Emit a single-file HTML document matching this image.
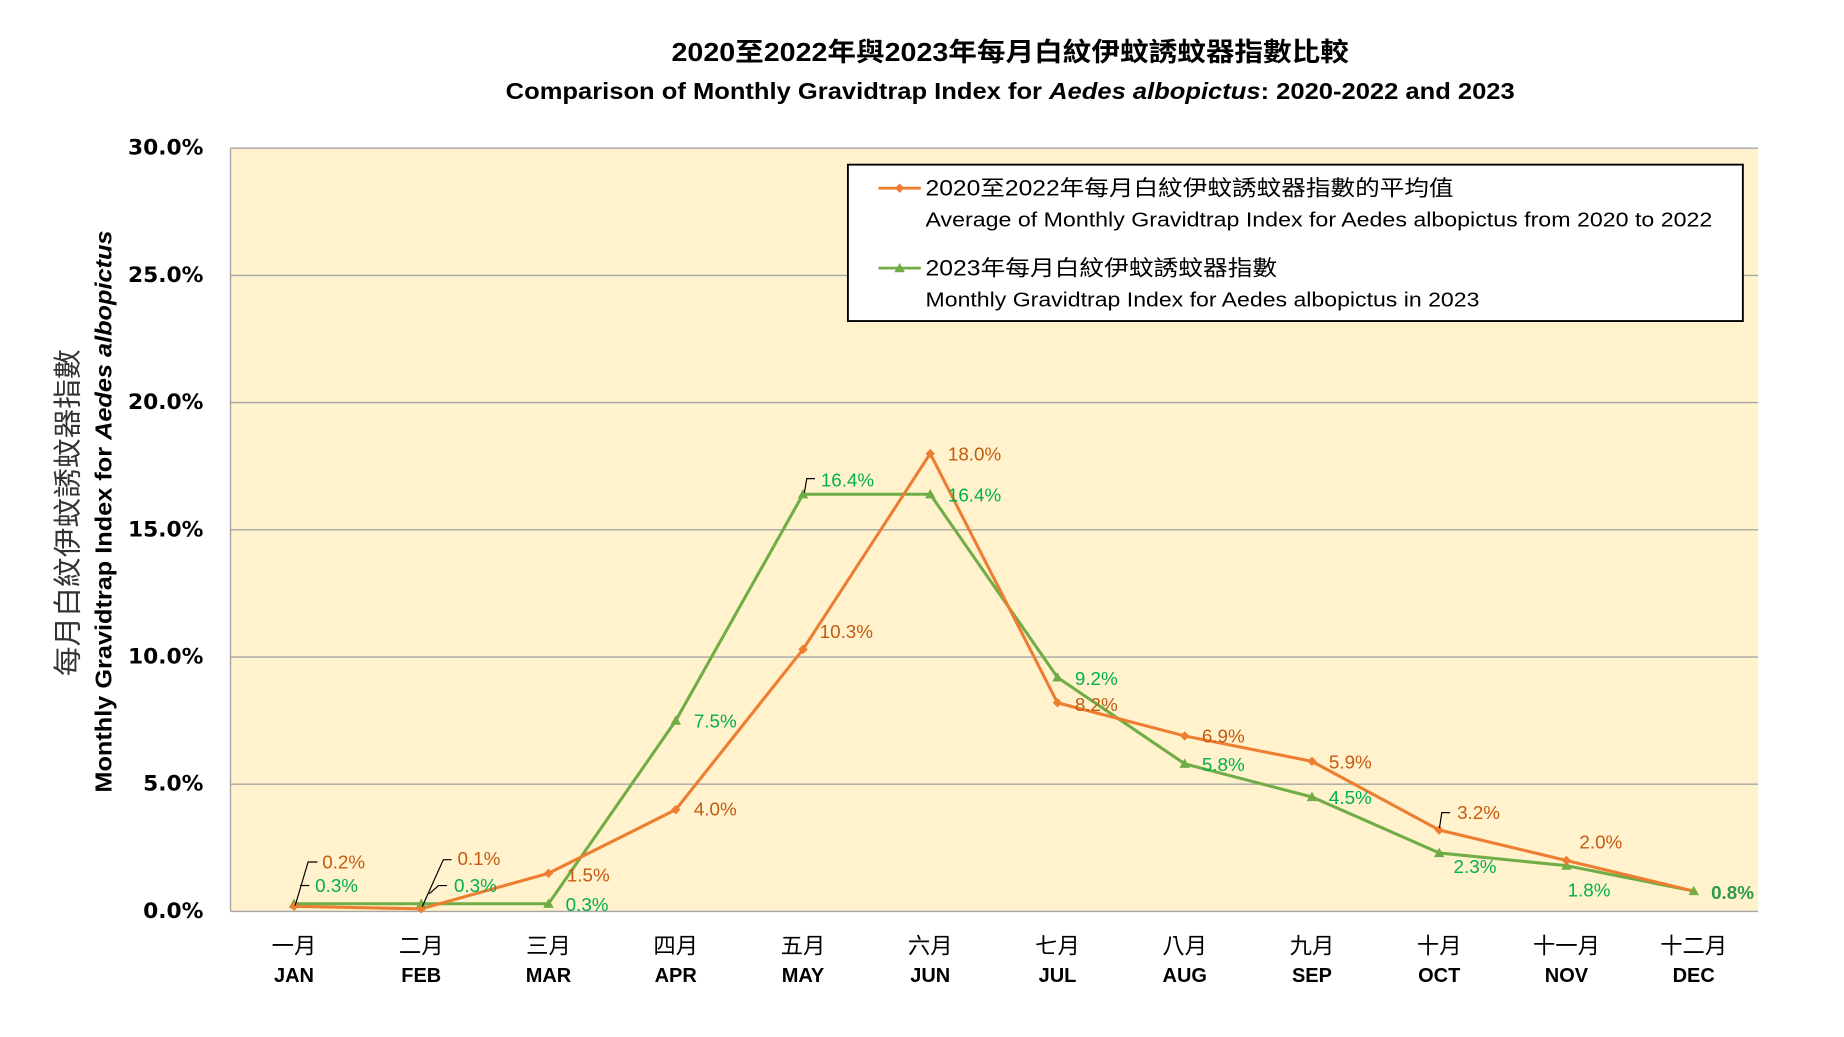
<!DOCTYPE html>
<html><head><meta charset="utf-8"><style>html,body{margin:0;padding:0;background:#fff}svg{display:block}</style></head>
<body>
<svg width="1844" height="1037" viewBox="0 0 1568 881.8" preserveAspectRatio="none" xmlns="http://www.w3.org/2000/svg">
<rect x="196" y="126" width="1299" height="649" fill="#FFF2CC"/>
<g stroke="#A6A6A6" stroke-width="1.2">
<line x1="196" y1="126" x2="1495" y2="126"/>
<line x1="196" y1="234.2" x2="1495" y2="234.2"/>
<line x1="196" y1="342.3" x2="1495" y2="342.3"/>
<line x1="196" y1="450.5" x2="1495" y2="450.5"/>
<line x1="196" y1="558.7" x2="1495" y2="558.7"/>
<line x1="196" y1="666.8" x2="1495" y2="666.8"/>
<line x1="196" y1="775" x2="1495" y2="775"/>
<line x1="196" y1="126" x2="196" y2="775"/>
</g>
<g font-family="'DejaVu Sans',sans-serif" font-weight="bold" font-size="18.5" text-anchor="end" fill="#000" dominant-baseline="central">
<text x="173" y="126">30.0%</text><text x="173" y="234.2">25.0%</text><text x="173" y="342.3">20.0%</text>
<text x="173" y="450.5">15.0%</text><text x="173" y="558.7">10.0%</text><text x="173" y="666.8">5.0%</text><text x="173" y="775">0.0%</text>
</g>
<g font-family="'Liberation Sans','Noto Sans CJK TC',sans-serif" text-anchor="middle" fill="#000">
<text x="859" y="52" font-size="22" font-weight="bold" textLength="576" lengthAdjust="spacingAndGlyphs">2020至2022年與2023年每月白紋伊蚊誘蚊器指數比較</text>
<text x="859" y="84" font-size="20" font-weight="bold" textLength="858" lengthAdjust="spacingAndGlyphs">Comparison of Monthly Gravidtrap Index for <tspan font-style="italic">Aedes albopictus</tspan>:  2020-2022 and 2023</text>
</g>
<text transform="translate(56,436) rotate(-90)" font-family="'Noto Sans CJK TC',sans-serif" font-size="24" fill="#333" text-anchor="middle" dominant-baseline="central" textLength="278" lengthAdjust="spacingAndGlyphs">每月白紋伊蚊誘蚊器指數</text>
<text transform="translate(88,435) rotate(-90)" font-family="'Liberation Sans',sans-serif" font-size="20" font-weight="bold" fill="#000" text-anchor="middle" dominant-baseline="central" textLength="478" lengthAdjust="spacingAndGlyphs">Monthly Gravidtrap Index for <tspan font-style="italic">Aedes albopictus</tspan></text>
<g font-family="'Noto Sans CJK TC',sans-serif" font-size="19" text-anchor="middle" fill="#000" dominant-baseline="central">
<text x="250" y="803">一月</text><text x="358.2" y="803">二月</text><text x="466.4" y="803">三月</text><text x="574.6" y="803">四月</text><text x="682.8" y="803">五月</text><text x="791" y="803">六月</text><text x="899.2" y="803">七月</text><text x="1007.4" y="803">八月</text><text x="1115.6" y="803">九月</text><text x="1223.8" y="803">十月</text><text x="1332" y="803">十一月</text><text x="1440.2" y="803">十二月</text>
</g>
<g font-family="'Liberation Sans',sans-serif" font-weight="bold" font-size="17" text-anchor="middle" fill="#000" dominant-baseline="central">
<text x="250" y="830">JAN</text><text x="358.2" y="830">FEB</text><text x="466.4" y="830">MAR</text><text x="574.6" y="830">APR</text><text x="682.8" y="830">MAY</text><text x="791" y="830">JUN</text><text x="899.2" y="830">JUL</text><text x="1007.4" y="830">AUG</text><text x="1115.6" y="830">SEP</text><text x="1223.8" y="830">OCT</text><text x="1332" y="830">NOV</text><text x="1440.2" y="830">DEC</text>
</g>
<polyline fill="none" stroke="#70AD47" stroke-width="2.6" points="250,768.5 358.2,768.5 466.4,768.5 574.6,612.8 682.8,420.3 791,420.3 899.2,576 1007.4,649.5 1115.6,677.7 1223.8,725.3 1332,736.1 1440.2,757.7"/>
<polyline fill="none" stroke="#ED7D31" stroke-width="2.6" points="250,770.7 358.2,772.8 466.4,742.6 574.6,688.5 682.8,552.2 791,385.7 899.2,597.6 1007.4,625.8 1115.6,647.4 1223.8,705.8 1332,731.7 1440.2,757.7"/>
<g fill="#70AD47">
<path d="M250,764 l4.5,8 h-9z"/><path d="M358.2,764 l4.5,8 h-9z"/><path d="M466.4,764 l4.5,8 h-9z"/><path d="M574.6,608.3 l4.5,8 h-9z"/><path d="M682.8,415.8 l4.5,8 h-9z"/><path d="M791,415.8 l4.5,8 h-9z"/><path d="M899.2,571.5 l4.5,8 h-9z"/><path d="M1007.4,645 l4.5,8 h-9z"/><path d="M1115.6,673.2 l4.5,8 h-9z"/><path d="M1223.8,720.8 l4.5,8 h-9z"/><path d="M1332,731.6 l4.5,8 h-9z"/><path d="M1440.2,753.2 l4.5,8 h-9z"/>
</g>
<g fill="#ED7D31">
<path d="M250,766.7 l4,4 l-4,4 l-4,-4z"/><path d="M358.2,768.8 l4,4 l-4,4 l-4,-4z"/><path d="M466.4,738.6 l4,4 l-4,4 l-4,-4z"/><path d="M574.6,684.5 l4,4 l-4,4 l-4,-4z"/><path d="M682.8,548.2 l4,4 l-4,4 l-4,-4z"/><path d="M791,381.7 l4,4 l-4,4 l-4,-4z"/><path d="M899.2,593.6 l4,4 l-4,4 l-4,-4z"/><path d="M1007.4,621.8 l4,4 l-4,4 l-4,-4z"/><path d="M1115.6,643.4 l4,4 l-4,4 l-4,-4z"/><path d="M1223.8,701.8 l4,4 l-4,4 l-4,-4z"/><path d="M1332,727.7 l4,4 l-4,4 l-4,-4z"/>
</g>
<g fill="none" stroke="#000" stroke-width="1">
<path d="M251,770 L262,733 h8"/><path d="M255,753 h8"/>
<path d="M359,771 L377,731 h7"/><path d="M365,760 l8,-7 h7"/>
<path d="M684,419 L686,407 h7"/>
<path d="M1224,704 L1226,691 h7"/>
</g>
<g font-family="'Liberation Sans',sans-serif" font-size="16" dominant-baseline="central">
<g fill="#C55A11">
<text x="274" y="733">0.2%</text><text x="389" y="730">0.1%</text><text x="482" y="744">1.5%</text><text x="590" y="688">4.0%</text><text x="697" y="537">10.3%</text><text x="806" y="386">18.0%</text><text x="914" y="599">8.2%</text><text x="1022" y="626">6.9%</text><text x="1130" y="648">5.9%</text><text x="1239" y="691">3.2%</text><text x="1343" y="716">2.0%</text>
</g>
<g fill="#00B050">
<text x="268" y="753">0.3%</text><text x="386" y="753">0.3%</text><text x="481" y="769">0.3%</text><text x="590" y="613">7.5%</text><text x="698" y="408">16.4%</text><text x="806" y="421">16.4%</text><text x="914" y="577">9.2%</text><text x="1022" y="650">5.8%</text><text x="1130" y="678">4.5%</text><text x="1236" y="737">2.3%</text><text x="1333" y="757">1.8%</text><text x="1455" y="759" font-weight="bold" fill="#2F9A4A">0.8%</text>
</g>
</g>
<rect x="721" y="140" width="761" height="133" fill="#fff" stroke="#000" stroke-width="1.6"/>
<line x1="747" y1="160" x2="783" y2="160" stroke="#ED7D31" stroke-width="2.4"/><path d="M765,156 l4,4 l-4,4 l-4,-4z" fill="#ED7D31"/>
<line x1="747" y1="228" x2="783" y2="228" stroke="#70AD47" stroke-width="2.4"/><path d="M765,223.5 l4.5,8 h-9z" fill="#70AD47"/>
<g font-family="'Liberation Sans','Noto Sans CJK TC',sans-serif" fill="#000" dominant-baseline="central">
<text x="787" y="160" font-size="18.5" textLength="449" lengthAdjust="spacingAndGlyphs">2020至2022年每月白紋伊蚊誘蚊器指數的平均值</text>
<text x="787" y="187" font-size="17.5" textLength="669" lengthAdjust="spacingAndGlyphs">Average of Monthly Gravidtrap Index  for Aedes albopictus from 2020 to 2022</text>
<text x="787" y="228" font-size="18.5" textLength="299" lengthAdjust="spacingAndGlyphs">2023年每月白紋伊蚊誘蚊器指數</text>
<text x="787" y="255" font-size="17.5" textLength="471" lengthAdjust="spacingAndGlyphs">Monthly Gravidtrap Index for Aedes albopictus in 2023</text>
</g>
</svg>
</body></html>
